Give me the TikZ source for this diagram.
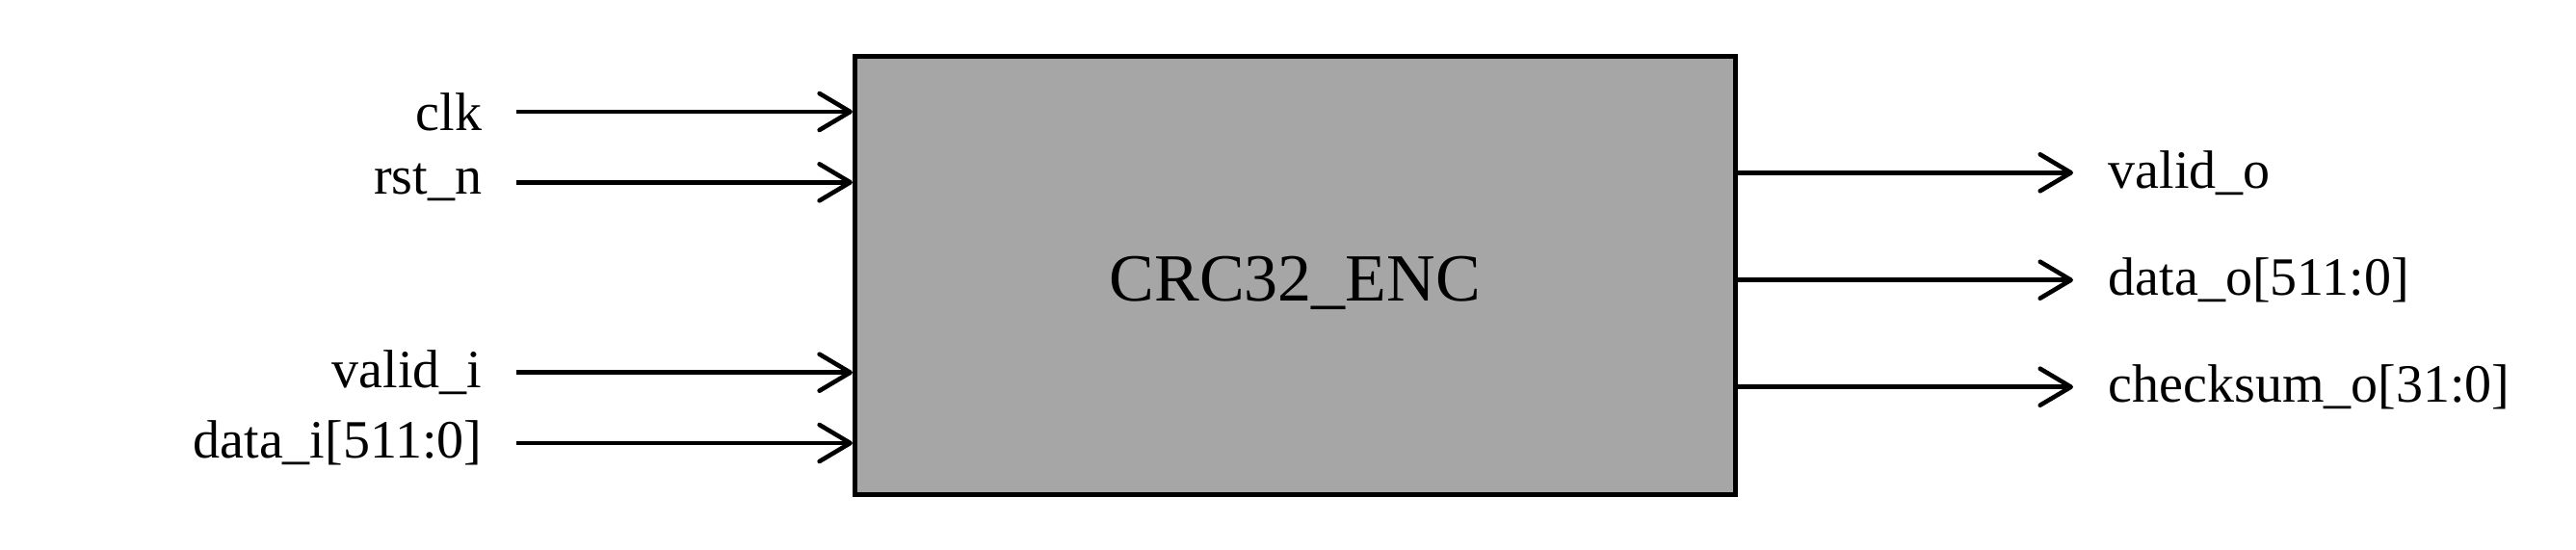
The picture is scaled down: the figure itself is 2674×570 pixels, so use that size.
\documentclass[tikz,border=0pt]{standalone}
\usepackage{fontspec}
\setmainfont{Liberation Serif}
\usetikzlibrary{arrows.meta}
\definecolor{boxgray}{RGB}{166,166,166}
\begin{document}
\begin{tikzpicture}[x=0.25pt,y=-0.25pt,
  blk/.style={draw=black, fill=boxgray, line width=1.3pt, minimum width=228.45pt, minimum height=113.7pt, inner sep=0pt, outer sep=0.65pt},
  sig/.style={line width=1.15pt, -{Straight Barb[length=8pt,width=9.5pt,round]}},
  lab/.style={font=\fontsize{14}{16}\selectfont, inner sep=0pt},
  ttl/.style={font=\fontsize{17.5}{21}\selectfont, inner sep=0pt}]
\useasboundingbox (0,0) rectangle (2674,570);
\node[blk] (box) at (1344.4,285.9) {};
\node[ttl, anchor=base] (name) at (1344.4,312) {CRC32\_ENC};
% inputs
\coordinate (clkS) at (536,116);
\coordinate (rstS) at (536,189.3);
\coordinate (viS) at (536,386.7);
\coordinate (diS) at (536,460);
\node[lab, anchor=east] (clkL) at (501,116) {clk};
\node[lab, anchor=east] (rstL) at (501,189.3) {rst\_n};
\node[lab, anchor=east] (viL) at (501,386.7) {valid\_i};
\node[lab, anchor=east] (diL) at (501,460) {data\_i[511:0]};
\draw[sig] (clkS) -- (clkS -| box.west);
\draw[sig] (rstS) -- (rstS -| box.west);
\draw[sig] (viS) -- (viS -| box.west);
\draw[sig] (diS) -- (diS -| box.west);
% outputs
\coordinate (voE) at (2152,179.3);
\coordinate (doE) at (2152,290.7);
\coordinate (csE) at (2152,401.7);
\draw[sig] (voE -| box.east) -- (voE);
\draw[sig] (doE -| box.east) -- (doE);
\draw[sig] (csE -| box.east) -- (csE);
\node[lab, anchor=west] (voL) at (2188,179.3) {valid\_o};
\node[lab, anchor=west] (doL) at (2188,290.7) {data\_o[511:0]};
\node[lab, anchor=west] (csL) at (2188,401.7) {checksum\_o[31:0]};
\end{tikzpicture}
\end{document}
